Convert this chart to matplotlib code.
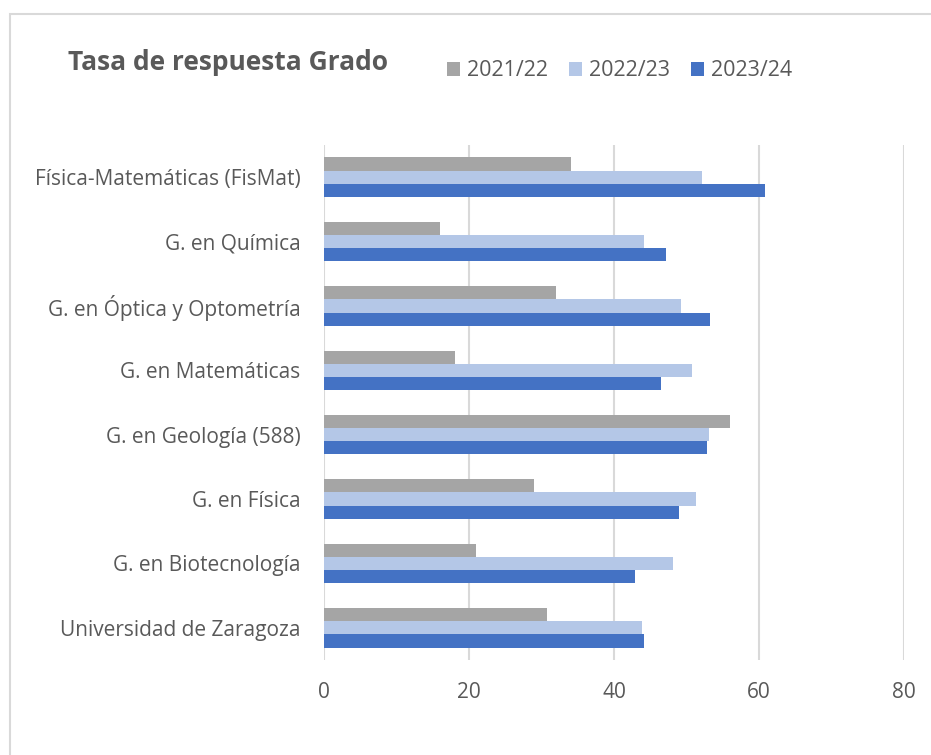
import matplotlib.pyplot as plt
import numpy as np
from matplotlib.patches import Rectangle

categories = ['Física-Matemáticas (FisMat)', 'G. en Química', 'G. en Óptica y Optometría',
              'G. en Matemáticas', 'G. en Geología (588)', 'G. en Física',
              'G. en Biotecnología', 'Universidad de Zaragoza']
series = ['2021/22', '2022/23', '2023/24']
v2122 = [34.0, 16.0, 32.0, 18.0, 56.0, 29.0, 21.0, 30.7]
v2223 = [52.1, 44.2, 49.2, 50.8, 53.1, 51.3, 48.2, 43.8]
v2324 = [60.8, 47.2, 53.3, 46.5, 52.8, 48.9, 42.9, 44.1]
colors = ['#A5A5A5', '#B4C7E7', '#4472C4']
xticks = [0, 20, 40, 60, 80]

plt.rcParams['font.family'] = ['Open Sans', 'DejaVu Sans']
text_col = '#595959'

fig = plt.figure(figsize=(9.31, 7.55), dpi=100)
W, H = 931, 755
ax = fig.add_axes([324 / W, 1 - 660 / H, (904 - 324) / W, (660 - 145) / H])

# chart frame (left and top edges visible)
fig.patches.append(Rectangle((10 / W, -0.1), 1.2, 1 - 14 / H + 0.1, transform=fig.transFigure,
                             fill=False, edgecolor='#D9D9D9', linewidth=1.5))

y = np.arange(len(categories))
h = 0.205
for i, (vals, lab, c) in enumerate(zip([v2122, v2223, v2324], series, colors)):
    ax.barh(y + (i - 1) * h, vals, height=h, color=c, label=lab, zorder=3)

ax.set_xlim(0, 80)
ax.set_ylim(len(categories) - 0.5, -0.5)
ax.set_xticks(xticks)
ax.set_yticks(y)
ax.set_yticklabels(categories)
ax.grid(axis='x', color='#D9D9D9', linewidth=1.5, zorder=0)
for s in ax.spines.values():
    s.set_visible(False)
ax.tick_params(axis='both', length=0, colors=text_col, labelsize=15)
ax.tick_params(axis='y', pad=17)
ax.tick_params(axis='x', pad=16)

fig.text(68 / W, 1 - 62 / H, 'Tasa de respuesta Grado', fontsize=19, fontweight='bold',
         color=text_col, va='center', ha='left')
fig.legend(loc='center left', bbox_to_anchor=(428 / W, 1 - 71 / H), ncol=3, frameon=False,
           fontsize=15.5, labelcolor=text_col, handlelength=0.6, handleheight=0.6,
           handletextpad=0.3, columnspacing=1.0)

fig.savefig('out.png', dpi=100)
